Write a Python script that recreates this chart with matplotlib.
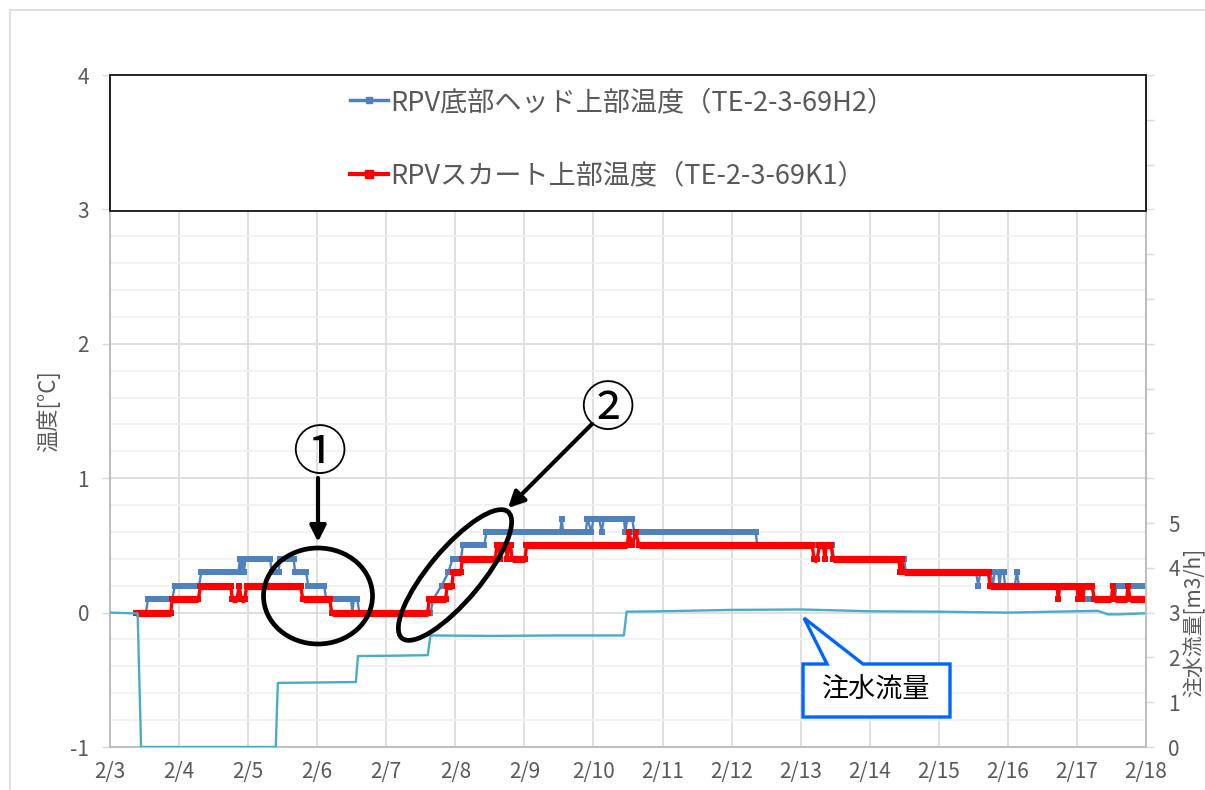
import matplotlib
matplotlib.use("Agg")
import matplotlib.pyplot as plt
import numpy as np
from matplotlib.patches import Ellipse, Rectangle, Polygon, FancyArrowPatch
from matplotlib.lines import Line2D
from matplotlib.ticker import FixedLocator, MultipleLocator

plt.rcParams['font.family'] = ['Noto Sans CJK JP', 'DejaVu Sans']
plt.rcParams['axes.unicode_minus'] = False

# x axis: days after 2/3
day_labels = ["2/3", "2/4", "2/5", "2/6", "2/7", "2/8", "2/9", "2/10", "2/11",
              "2/12", "2/13", "2/14", "2/15", "2/16", "2/17", "2/18"]

label_h2 = "RPV底部ヘッド上部温度（TE-2-3-69H2）"
label_k1 = "RPVスカート上部温度（TE-2-3-69K1）"

# RPV bottom head upper temperature (change points)
h2_t = [0.38, 0.52, 0.55, 0.90, 0.94, 1.29, 1.32, 1.86, 1.88, 1.90, 1.92, 1.94, 1.96,
        2.32, 2.34, 2.44, 2.46, 2.66, 2.68, 2.84, 2.87, 3.10, 3.13, 3.49, 3.51, 3.53,
        3.58, 3.61, 4.64, 4.68, 4.80, 4.90, 4.96, 5.08, 5.11, 5.42, 5.45, 6.52, 6.54,
        6.56, 6.89, 6.91, 6.97, 7.00, 7.08, 7.12, 7.15, 7.44, 7.46, 7.49, 7.56, 7.59,
        9.35, 9.37, 10.45, 10.48, 11.50, 11.52, 12.54, 12.57, 12.60, 12.75, 12.78,
        12.81, 12.86, 12.88, 12.90, 12.94, 12.96, 13.10, 13.13, 13.16, 14.00, 14.02,
        14.55, 14.57, 15.00]
h2_v = [0.0, 0.0, 0.1, 0.1, 0.2, 0.2, 0.3, 0.3, 0.4, 0.3, 0.4, 0.3, 0.4,
        0.4, 0.3, 0.3, 0.4, 0.4, 0.3, 0.3, 0.2, 0.2, 0.1, 0.1, 0.0, 0.1,
        0.1, 0.0, 0.0, 0.1, 0.2, 0.3, 0.4, 0.4, 0.5, 0.5, 0.6, 0.6, 0.7,
        0.6, 0.6, 0.7, 0.6, 0.7, 0.7, 0.6, 0.7, 0.7, 0.6, 0.7, 0.7, 0.6,
        0.6, 0.5, 0.5, 0.4, 0.4, 0.3, 0.3, 0.2, 0.3, 0.3, 0.2,
        0.3, 0.3, 0.2, 0.3, 0.3, 0.2, 0.2, 0.3, 0.2, 0.2, 0.1,
        0.1, 0.2, 0.2]

# RPV skirt upper temperature (change points)
k1_t = [0.38, 0.88, 0.90, 1.28, 1.31, 1.75, 1.77, 1.84, 1.87, 1.90, 1.95, 1.98,
        2.76, 2.79, 3.18, 3.21, 4.60, 4.62, 4.86, 4.88, 4.95, 4.97, 5.08, 5.10,
        5.58, 5.60, 5.63, 5.65, 5.67, 5.73, 5.75, 5.77, 5.80, 5.82, 6.01, 6.03,
        7.49, 7.51, 7.56, 7.61, 7.66, 10.17, 10.19, 10.24, 10.27, 10.33, 10.35,
        10.37, 10.44, 10.47, 11.42, 11.44, 11.46, 11.49, 12.72, 12.74, 13.71,
        13.73, 13.75, 14.00, 14.02, 14.05, 14.08, 14.11, 14.22, 14.25, 14.50,
        14.52, 14.55, 14.72, 14.74, 14.77, 15.00]
k1_v = [0.0, 0.0, 0.1, 0.1, 0.2, 0.2, 0.1, 0.1, 0.2, 0.1, 0.1, 0.2,
        0.2, 0.1, 0.1, 0.0, 0.0, 0.1, 0.1, 0.2, 0.2, 0.3, 0.3, 0.4,
        0.4, 0.5, 0.5, 0.4, 0.5, 0.5, 0.4, 0.5, 0.5, 0.4, 0.4, 0.5,
        0.5, 0.6, 0.5, 0.6, 0.5, 0.5, 0.4, 0.4, 0.5, 0.5, 0.4,
        0.5, 0.5, 0.4, 0.4, 0.3, 0.4, 0.3, 0.3, 0.2, 0.2,
        0.1, 0.2, 0.2, 0.1, 0.2, 0.1, 0.2, 0.2, 0.1, 0.1,
        0.2, 0.1, 0.1, 0.2, 0.1, 0.1]

# injection flow rate [m3/h] (right axis)
flow_t = [0.00, 0.40, 0.45, 2.40, 2.43, 3.00, 3.56, 3.59, 4.20, 4.60, 4.64, 5.50,
          6.50, 7.44, 7.48, 8.00, 9.00, 10.00, 11.00, 12.00, 13.00, 14.30, 14.45,
          14.60, 15.00]
flow_v = [3.00, 2.98, 0.00, 0.00, 1.43, 1.44, 1.45, 2.03, 2.04, 2.05, 2.49, 2.48,
          2.49, 2.49, 3.02, 3.03, 3.06, 3.07, 3.03, 3.02, 3.00, 3.04, 2.96,
          2.96, 2.985]

C_BLUE = "#4F81BD"
C_RED = "#FF0000"
C_FLOW = "#4BACC6"
C_TXT = "#595959"
C_GRID = "#D9D9D9"


def draw_steps(ax, t, v, color, lw_flat, lw_ramp, ms, z):
    t = np.asarray(t, float)
    v = np.asarray(v, float)
    ax.plot(t, v, color=color, lw=lw_ramp, marker="s", ms=ms, mew=0, zorder=z)
    ft, fv = [], []
    for i in range(len(t) - 1):
        if v[i] == v[i + 1]:
            ft += [t[i], t[i + 1], np.nan]
            fv += [v[i], v[i + 1], np.nan]
    ax.plot(ft, fv, color=color, lw=lw_flat, solid_capstyle="butt", zorder=z)


fig = plt.figure(figsize=(12.05, 7.9), dpi=100)
W, H = 1205, 790


def px(x, y):
    # pixel position (from top-left) -> inches for dpi_scale_trans
    return (x / 100.0, (H - y) / 100.0)


ax = fig.add_axes([110 / W, 1 - 747 / H, 1036 / W, 672 / H])
ax.set_xlim(0, 15)
ax.set_ylim(-1, 4)

ax.set_xticks(np.arange(len(day_labels)))
ax.set_xticklabels(day_labels)
ax.yaxis.set_major_locator(MultipleLocator(1))
ax.yaxis.set_minor_locator(MultipleLocator(0.2))
ax.grid(axis="x", color=C_GRID, lw=1.2, zorder=0)
ax.grid(axis="y", which="major", color=C_GRID, lw=1.2, zorder=0)
ax.grid(axis="y", which="minor", color="#F0F0F0", lw=1.2, zorder=0)
ax.set_axisbelow(True)
ax.tick_params(axis="x", length=0, pad=10, labelsize=15, colors=C_TXT)
ax.tick_params(axis="y", which="major", length=6, width=1, color=C_GRID,
               pad=9, labelsize=15, labelcolor=C_TXT)
ax.tick_params(axis="y", which="minor", length=0)
for s in ["top", "right"]:
    ax.spines[s].set_visible(False)
for s in ["left", "bottom"]:
    ax.spines[s].set_color("#BFBFBF")
    ax.spines[s].set_linewidth(1.5)
ax.set_ylabel("温度[°C]", fontsize=16, color=C_TXT, labelpad=7)

draw_steps(ax, h2_t, h2_v, C_BLUE, 4.3, 1.7, 4.0, 3)
draw_steps(ax, k1_t, k1_v, C_RED, 5.2, 2.4, 4.8, 4)

ax2 = ax.twinx()
ax2.set_ylim(0, 15)
ax2.plot(flow_t, flow_v, color=C_FLOW, lw=1.7, zorder=2)
ax2.yaxis.set_major_locator(FixedLocator(np.arange(0, 16)))
ax2.set_yticklabels([str(i) if i <= 5 else "" for i in range(16)])
ax2.tick_params(axis="y", length=6, width=1, color=C_GRID, pad=10,
                labelsize=15, labelcolor=C_TXT)
for s in ["top", "left", "bottom"]:
    ax2.spines[s].set_visible(False)
ax2.spines["right"].set_color("#BFBFBF")
ax2.spines["right"].set_linewidth(1.5)

fig.text(1194 / W, 1 - 622 / H, "注水流量[m3/h]", rotation=90, ha="center",
         va="center", fontsize=15, color=C_TXT)

# outer chart border
fig.add_artist(Rectangle(px(10, 900), 14, 8.9, transform=fig.dpi_scale_trans,
                         fill=False, ec="#D9D9D9", lw=1.2))

# legend box
fig.add_artist(Rectangle(px(110, 211), 10.36, 1.36, transform=fig.dpi_scale_trans,
                         fc="white", ec="black", lw=1.2, zorder=3))
handles = [Line2D([], [], color=C_BLUE, lw=2.5, marker="s", ms=4.5),
           Line2D([], [], color=C_RED, lw=3, marker="s", ms=5.5)]
fig.legend(handles, [label_h2, label_k1], loc="center",
           bbox_to_anchor=(622 / W, 1 - 139 / H), frameon=False,
           fontsize=19.5, labelcolor=C_TXT, handlelength=1.4, handletextpad=0.1,
           labelspacing=1.7)

# annotation 1
fig.add_artist(Ellipse(px(318, 596), 1.09, 0.96, transform=fig.dpi_scale_trans,
                       fill=False, ec="black", lw=3.4, zorder=6))
fig.text(319 / W, 1 - 455 / H, "①", ha="center", va="center", fontsize=39,
         color="black")
fig.add_artist(FancyArrowPatch(px(318, 478), px(318, 542), transform=fig.dpi_scale_trans,
                               arrowstyle="-|>", mutation_scale=24, lw=3,
                               color="black", shrinkA=0, shrinkB=0, zorder=6))

# annotation 2
fig.add_artist(Ellipse(px(455, 575), 1.65, 0.52, angle=50, transform=fig.dpi_scale_trans,
                       fill=False, ec="black", lw=3.4, zorder=6))
fig.text(607 / W, 1 - 411 / H, "②", ha="center", va="center", fontsize=39,
         color="black")
fig.add_artist(FancyArrowPatch(px(592, 424), px(508, 508), transform=fig.dpi_scale_trans,
                               arrowstyle="-|>", mutation_scale=24, lw=3,
                               color="black", shrinkA=0, shrinkB=0, zorder=6))

# callout for flow line
callout = [px(803, 664), px(827, 664), px(804, 618), px(863, 664), px(950, 664),
           px(950, 717), px(803, 717)]
fig.add_artist(Polygon(callout, closed=True, transform=fig.dpi_scale_trans,
                       fc="white", ec="#0066FF", lw=2.4, joinstyle="miter", zorder=6))
fig.text(876 / W, 1 - 690 / H, "注水流量", ha="center", va="center", fontsize=19.5,
         color="black", zorder=7)

fig.savefig("out.png", dpi=100)
